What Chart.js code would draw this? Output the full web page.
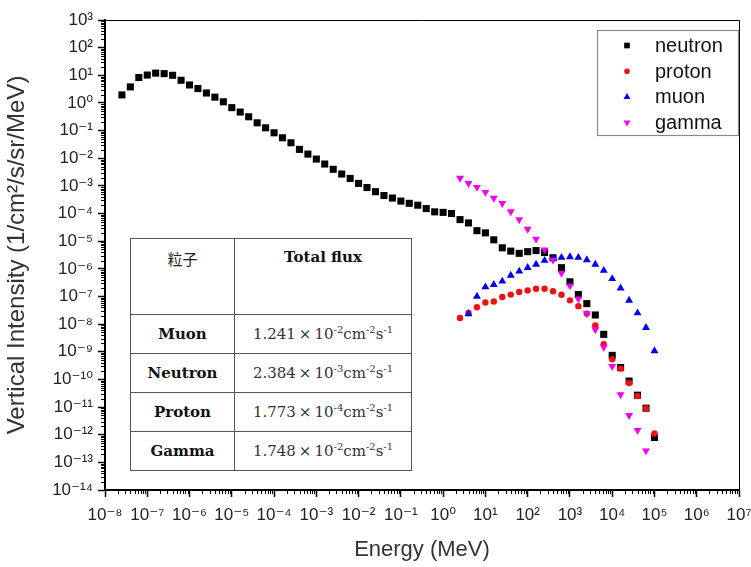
<!DOCTYPE html>
<html><head><meta charset="utf-8">
<script src="https://cdn.jsdelivr.net/npm/chart.js@4/dist/chart.umd.min.js"></script>
<style>
html,body{margin:0;padding:0;background:#fff;}
#wrap{position:relative;width:751px;height:567px;overflow:hidden;}
#c{position:absolute;left:0;top:0;}
#flux{position:absolute;left:130px;top:238px;border-collapse:collapse;table-layout:fixed;background:#fff;
 font-family:"DejaVu Serif","Liberation Serif",serif;font-size:15px;color:#333;}
#flux td{border:1.5px solid #555;padding:0;text-align:center;vertical-align:middle;white-space:nowrap;}
#flux td.name{font-weight:bold;color:#111;}
#flux tr.head td{vertical-align:top;padding-top:9px;}
#flux td.cjk{font-family:"Noto Sans CJK SC",sans-serif;font-weight:normal;color:#222;font-size:15px;}
#flux sup{font-size:10px;vertical-align:6px;line-height:0;}
</style></head>
<body><div id="wrap"><canvas id="c" width="751" height="567"></canvas><table id="flux"></table></div>
<script>
// ---------- data ----------
const xTickValues=[1e-8,1e-7,1e-6,1e-5,1e-4,1e-3,1e-2,1e-1,1e0,1e1,1e2,1e3,1e4,1e5,1e6,1e7];
const xTickLabels=['10⁻⁸','10⁻⁷','10⁻⁶','10⁻⁵','10⁻⁴','10⁻³','10⁻²','10⁻¹','10⁰','10¹','10²','10³','10⁴','10⁵','10⁶','10⁷'];
const yTickValues=[1e-14,1e-13,1e-12,1e-11,1e-10,1e-9,1e-8,1e-7,1e-6,1e-5,1e-4,1e-3,1e-2,1e-1,1e0,1e1,1e2,1e3];
const yTickLabels=['10⁻¹⁴','10⁻¹³','10⁻¹²','10⁻¹¹','10⁻¹⁰','10⁻⁹','10⁻⁸','10⁻⁷','10⁻⁶','10⁻⁵','10⁻⁴','10⁻³','10⁻²','10⁻¹','10⁰','10¹','10²','10³'];

const neutronEnergy=[2.51e-8,3.98e-8,6.31e-8,1.00e-7,1.58e-7,2.51e-7,3.98e-7,6.31e-7,1.00e-6,
 1.58e-6,2.51e-6,3.98e-6,6.31e-6,1.00e-5,
 1.58e-5,2.51e-5,3.98e-5,6.31e-5,1.00e-4,
 1.58e-4,2.51e-4,3.98e-4,6.31e-4,1.00e-3,
 1.58e-3,2.51e-3,3.98e-3,6.31e-3,1.00e-2,
 1.58e-2,2.51e-2,3.98e-2,6.31e-2,0.1,
 0.158,0.251,0.398,0.631,1,
 1.58,2.51,3.98,6.31,10,
 15.8,25.1,39.8,63.1,100,
 158,251,398,631,1000,
 1580,2510,3980,6310,1e4,
 1.58e4,2.51e4,3.98e4,6.31e4,1e5];
const neutronFlux=[1.95,3.80,8.32,10.2,12.0,11.5,10.0,6.61,4.47,
 3.31,2.29,1.62,1.10,0.676,
 0.468,0.316,0.191,0.126,0.0832,
 0.0550,0.0363,0.0209,0.0141,9.33e-3,
 6.17e-3,3.98e-3,2.69e-3,1.86e-3,1.23e-3,
 8.71e-4,6.17e-4,4.47e-4,3.63e-4,2.82e-4,
 2.34e-4,2.00e-4,1.51e-4,1.15e-4,1.10e-4,
 1.00e-4,6.03e-5,4.57e-5,2.40e-5,2.00e-5,
 1.12e-5,5.75e-6,4.37e-6,3.63e-6,4.17e-6,
 4.57e-6,3.89e-6,2.51e-6,1.10e-6,3.39e-7,
 1.17e-7,5.50e-8,2.14e-8,4.27e-9,7.41e-10,
 2.69e-10,8.71e-11,2.69e-11,9.12e-12,7.94e-13];

const protonEnergy=[2.51,3.98,6.31,10,15.8,25.1,39.8,63.1,100,158,251,398,631,1000,1580,2510,3980,6310,1e4,1.58e4,2.51e4,3.98e4,6.31e4,1e5];
const protonFlux=[1.66e-8,2.51e-8,4.07e-8,6.03e-8,6.61e-8,9.55e-8,1.17e-7,1.45e-7,1.66e-7,1.91e-7,1.91e-7,1.55e-7,1.15e-7,7.24e-8,4.47e-8,2.40e-8,8.91e-9,1.86e-9,5.37e-10,2.45e-10,7.41e-11,2.51e-11,8.91e-12,1.10e-12];

const muonEnergy=[3.98,6.31,10,15.8,25.1,39.8,63.1,100,158,251,398,631,1000,1580,2510,3980,6310,1e4,1.58e4,2.51e4,3.98e4,6.31e4,1e5];
const muonFlux=[2.34e-8,1.00e-7,2.19e-7,2.69e-7,3.55e-7,5.75e-7,8.13e-7,1.10e-6,1.45e-6,2.00e-6,2.40e-6,2.57e-6,2.69e-6,2.57e-6,2.09e-6,1.45e-6,8.71e-7,4.37e-7,2.00e-7,7.24e-8,2.51e-8,7.41e-9,1.07e-9];

const gammaEnergy=[2.51,3.98,6.31,10,15.8,25.1,39.8,63.1,100,158,251,398,631,1000,1580,2510,3980,6310,1e4,1.58e4,2.51e4,3.98e4,6.31e4];
const gammaFlux=[1.91e-3,1.23e-3,8.91e-4,5.89e-4,3.63e-4,2.34e-4,1.17e-4,6.03e-5,2.75e-5,1.20e-5,4.90e-6,2.09e-6,6.92e-7,2.45e-7,8.32e-8,2.40e-8,6.31e-9,1.48e-9,2.95e-10,2.82e-11,5.01e-12,1.45e-12,2.63e-13];

const seriesLabels=['neutron','proton','muon','gamma'];

const tableHeader=['粒子','Total flux'];
const tableParticles=['Muon','Neutron','Proton','Gamma'];
const tableMantissa=['1.241','2.384','1.773','1.748'];
const tableExponent=['-2','-3','-4','-2'];

// ---------- table ----------
(function(){
  const t=document.getElementById('flux');
  let h='<colgroup><col style="width:104px"><col style="width:177px"></colgroup>';
  h+='<tr class="head" style="height:76px"><td class="cjk">'+tableHeader[0]+'</td><td class="name">'+tableHeader[1]+'</td></tr>';
  tableParticles.forEach((p,i)=>{
    h+='<tr style="height:39px"><td class="name">'+p+'</td><td>'+tableMantissa[i]+'\u2009×\u200910<sup>'+tableExponent[i]+'</sup>cm<sup>-2</sup>s<sup>-1</sup></td></tr>';
  });
  t.innerHTML=h;
})();

// ---------- chart ----------
const FONT='"Liberation Sans","DejaVu Sans",Arial,sans-serif';
function mk(label,E,F,style,color,r,rot,order,lr){
  return {label,data:E.map((e,i)=>({x:e,y:F[i]})),showLine:false,pointStyle:style,pointRadius:r,pointHoverRadius:r,
    pointRotation:rot,backgroundColor:color,borderColor:color,pointBorderWidth:0,borderWidth:0,order,legendRadius:lr};
}
const datasets=[
  mk(seriesLabels[0],neutronEnergy,neutronFlux,'rect','#000000',5,0,4,4),
  mk(seriesLabels[1],protonEnergy,protonFlux,'circle','#ee1111',3.2,0,3,2.8),
  mk(seriesLabels[2],muonEnergy,muonFlux,'triangle','#0000ee',4.6,0,2,4),
  mk(seriesLabels[3],gammaEnergy,gammaFlux,'triangle','#ee00ee',4.6,180,1,4)
];

const decor={
  id:'decor',
  afterDraw(chart){
    const {ctx,chartArea:a,scales:{x,y}}=chart;
    ctx.save();
    ctx.strokeStyle='#000';ctx.lineWidth=1;
    ctx.beginPath();
    ctx.moveTo(a.left,a.top+0.5);ctx.lineTo(a.right+0.5,a.top+0.5);ctx.lineTo(a.right+0.5,a.bottom);
    ctx.stroke();
    // minor ticks
    ctx.beginPath();
    for(let i=0;i<yTickValues.length-1;i++){
      for(let k=2;k<10;k++){
        const py=Math.round(y.getPixelForValue(k*yTickValues[i]))+0.5;
        ctx.moveTo(a.left-4,py);ctx.lineTo(a.left,py);
      }
    }
    for(let i=0;i<xTickValues.length-1;i++){
      for(let k=2;k<10;k++){
        const px=Math.round(x.getPixelForValue(k*xTickValues[i]))+0.5;
        ctx.moveTo(px,a.bottom);ctx.lineTo(px,a.bottom+4);
      }
    }
    ctx.stroke();
    // legend
    const lx=a.right-142,ly=30,lw=141,lh=105;
    ctx.fillStyle='#fff';ctx.fillRect(lx,ly,lw,lh);
    ctx.strokeStyle='#8a8a8a';ctx.lineWidth=1.2;
    ctx.strokeRect(lx+0.5,ly+0.5,lw,lh);
    chart.data.datasets.forEach((d,i)=>{
      const cy=ly+15.5+i*25.7;
      ctx.fillStyle=d.backgroundColor;ctx.strokeStyle=d.backgroundColor;
      if(Chart.helpers&&Chart.helpers.drawPoint){
        Chart.helpers.drawPoint(ctx,{pointStyle:d.pointStyle,rotation:d.pointRotation,radius:d.legendRadius,borderWidth:0},lx+30,cy);
      }
      ctx.fillStyle='#111';ctx.font='20px '+FONT;ctx.textBaseline='middle';ctx.textAlign='left';
      ctx.fillText(d.label,lx+58,cy+1);
    });
    ctx.restore();
  }
};

new Chart(document.getElementById('c'),{
  type:'scatter',
  data:{datasets},
  options:{
    responsive:false,animation:false,devicePixelRatio:1,
    layout:{padding:{top:20,right:12,left:0,bottom:0}},
    plugins:{legend:{display:false},tooltip:{enabled:false}},
    scales:{
      x:{type:'logarithmic',min:1e-8,max:1e7,position:'bottom',
        afterBuildTicks:s=>{s.ticks=xTickValues.map(v=>({value:v}));},
        afterFit:s=>{s.height=77;s.paddingRight=0;s.paddingLeft=0;},
        ticks:{autoSkip:false,maxRotation:0,padding:8,color:'#222',font:{family:FONT,size:17},
          callback:(v,i)=>xTickLabels[i]},
        grid:{display:true,drawOnChartArea:false,drawTicks:true,tickLength:7,tickWidth:1.5,tickColor:'#000'},
        border:{display:true,width:2,color:'#000'},
        title:{display:true,text:'Energy (MeV)',color:'#333',font:{family:FONT,size:22},padding:{top:0,bottom:4}}
      },
      y:{type:'logarithmic',min:1e-14,max:1e3,position:'left',
        afterBuildTicks:s=>{s.ticks=yTickValues.map(v=>({value:v}));},
        afterFit:s=>{s.width=105;s.paddingTop=0;s.paddingBottom=0;},
        ticks:{autoSkip:false,padding:5,color:'#222',font:{family:FONT,size:17},
          callback:(v,i)=>yTickLabels[i]},
        grid:{display:true,drawOnChartArea:false,drawTicks:true,tickLength:7,tickWidth:1.5,tickColor:'#000'},
        border:{display:true,width:2,color:'#000'},
        title:{display:true,text:'Vertical Intensity (1/cm²/s/sr/MeV)',color:'#333',font:{family:FONT,size:24},padding:{top:3,bottom:0}}
      }
    }
  },
  plugins:[decor]
});
</script>
</body></html>
